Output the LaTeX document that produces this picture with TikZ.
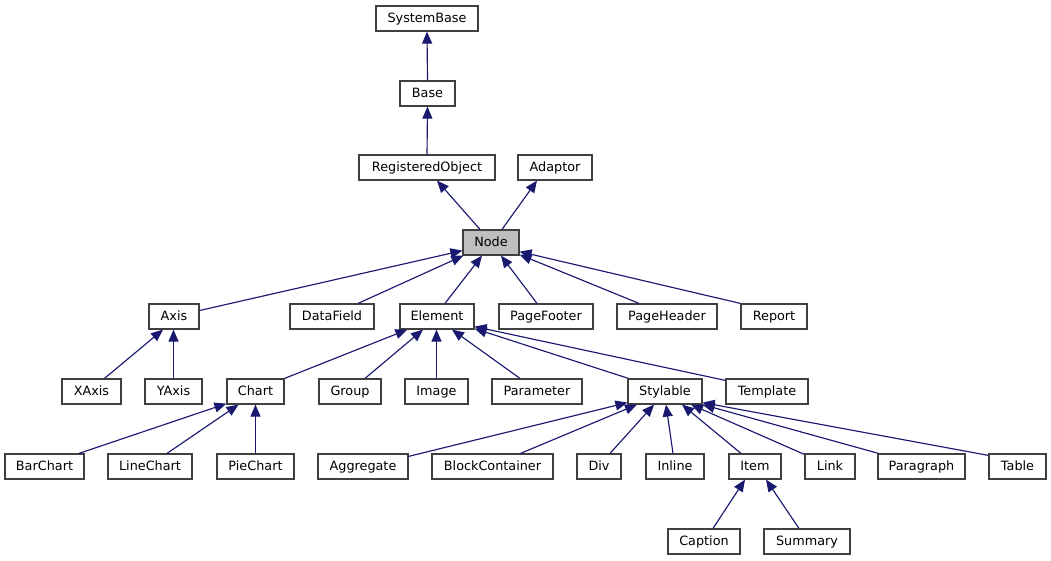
\documentclass[tikz,border=0pt]{standalone}
\usepackage{fontspec}
\setmainfont{DejaVu Sans}
\usetikzlibrary{arrows.meta}
\definecolor{edgeblue}{HTML}{191970}
\definecolor{boxline}{HTML}{404040}
\definecolor{nodegray}{HTML}{BFBFBF}
\tikzset{
  cls/.style={draw=boxline, line width=1.2pt, fill=white, inner sep=0pt,
    minimum height=25pt, text height=9.6pt, text depth=2.6pt,
    font=\fontsize{12.8pt}{14pt}\selectfont, text=black},
  cur/.style={cls, fill=nodegray},
  edge/.style={draw=edgeblue, line width=1.15pt, -{Triangle[length=12pt,width=10pt]}}
}
\begin{document}
\begin{tikzpicture}[x=1pt,y=-1pt]
\useasboundingbox (0,0) rectangle (1051,560);
% row 1-4
\node[cls, minimum width=102pt] (SystemBase) at (427,18.5) {SystemBase};
\node[cls, minimum width=55pt] (Base) at (427.5,93.5) {Base};
\node[cls, minimum width=136pt] (RegisteredObject) at (427,167.5) {RegisteredObject};
\node[cls, minimum width=74pt] (Adaptor) at (555,167.5) {Adaptor};
\node[cur, minimum width=56pt] (Node) at (491,242.5) {Node};
% row 5
\node[cls, minimum width=50pt] (Axis) at (174,316.5) {Axis};
\node[cls, minimum width=84pt] (DataField) at (332,316.5) {DataField};
\node[cls, minimum width=74pt] (Element) at (437,316.5) {Element};
\node[cls, minimum width=94pt] (PageFooter) at (546,316.5) {PageFooter};
\node[cls, minimum width=100pt] (PageHeader) at (667,316.5) {PageHeader};
\node[cls, minimum width=66pt] (Report) at (774,316.5) {Report};
% row 6
\node[cls, minimum width=59pt] (XAxis) at (91.5,391.5) {XAxis};
\node[cls, minimum width=57pt] (YAxis) at (173.5,391.5) {YAxis};
\node[cls, minimum width=57pt] (Chart) at (255.5,391.5) {Chart};
\node[cls, minimum width=62pt] (Group) at (350,391.5) {Group};
\node[cls, minimum width=63pt] (Image) at (436.5,391.5) {Image};
\node[cls, minimum width=90pt] (Parameter) at (537,391.5) {Parameter};
\node[cls, minimum width=74pt] (Stylable) at (665,391.5) {Stylable};
\node[cls, minimum width=82pt] (Template) at (767,391.5) {Template};
% row 7
\node[cls, minimum width=79pt] (BarChart) at (44.5,466.5) {BarChart};
\node[cls, minimum width=84pt] (LineChart) at (150,466.5) {LineChart};
\node[cls, minimum width=77pt] (PieChart) at (255.5,466.5) {PieChart};
\node[cls, minimum width=90pt] (Aggregate) at (363,466.5) {Aggregate};
\node[cls, minimum width=121pt] (BlockContainer) at (492.5,466.5) {BlockContainer};
\node[cls, minimum width=44pt] (Div) at (599,466.5) {Div};
\node[cls, minimum width=58pt] (Inline) at (675,466.5) {Inline};
\node[cls, minimum width=52pt] (Item) at (755,466.5) {Item};
\node[cls, minimum width=50pt] (Link) at (830,466.5) {Link};
\node[cls, minimum width=87pt] (Paragraph) at (921.5,466.5) {Paragraph};
\node[cls, minimum width=57pt] (Table) at (1017.5,466.5) {Table};
% row 8
\node[cls, minimum width=72pt] (Caption) at (704,541.5) {Caption};
\node[cls, minimum width=86pt] (Summary) at (807,541.5) {Summary};
% edges
\draw[edge] (Base.north) -- (SystemBase.south);
\draw[edge] (RegisteredObject.north) -- (Base.south);
\draw[edge] ([xshift=-11pt]Node.north) -- ([xshift=10pt]RegisteredObject.south);
\draw[edge] ([xshift=11pt]Node.north) -- ([xshift=-18pt]Adaptor.south);
\draw[edge] ([yshift=6pt]Axis.east) -- ([yshift=5pt]Node.south west);
\draw[edge] ([xshift=26pt]DataField.north) -- ([xshift=1pt]Node.south west);
\draw[edge] ([xshift=8pt]Element.north) -- ([xshift=-9pt]Node.south);
\draw[edge] ([xshift=-9pt]PageFooter.north) -- ([xshift=10pt]Node.south);
\draw[edge] ([xshift=-28pt]PageHeader.north) -- ([yshift=1pt]Node.south east);
\draw[edge] (Report.north west) -- ([yshift=4pt]Node.south east);
\draw[edge] ([xshift=13pt]XAxis.north) -- ([xshift=-11pt]Axis.south);
\draw[edge] (YAxis.north) -- (YAxis.north |- Axis.south);
\draw[edge] (Chart.north east) -- ([xshift=8pt]Element.south west);
\draw[edge] ([xshift=15pt]Group.north) -- ([xshift=-14pt]Element.south);
\draw[edge] (Image.north) -- (Image.north |- Element.south);
\draw[edge] ([xshift=-17pt]Parameter.north) -- ([xshift=15pt]Element.south);
\draw[edge] ([xshift=1pt]Stylable.north west) -- ([yshift=1pt]Element.south east);
\draw[edge] ([yshift=-2pt]Template.north west) -- ([yshift=3pt]Element.south east);
\draw[edge] ([xshift=34.5pt]BarChart.north) -- ([yshift=1pt]Chart.south west);
\draw[edge] ([xshift=17pt]LineChart.north) -- ([xshift=-17pt]Chart.south);
\draw[edge] (PieChart.north) -- (Chart.south);
\draw[edge] ([yshift=-3pt]Aggregate.north east) -- ([yshift=2pt]Stylable.south west);
\draw[edge] ([xshift=28pt]BlockContainer.north) -- ([xshift=-28pt]Stylable.south);
\draw[edge] ([xshift=11pt]Div.north) -- ([xshift=-11pt]Stylable.south);
\draw[edge] ([xshift=-2pt]Inline.north) -- ([xshift=1pt]Stylable.south);
\draw[edge] ([xshift=-14pt]Item.north) -- ([xshift=17pt]Stylable.south);
\draw[edge] ([yshift=-1pt]Link.north west) -- ([xshift=26pt]Stylable.south);
\draw[edge] ([xshift=-43pt]Paragraph.north) -- (Stylable.south east);
\draw[edge] ([yshift=-2pt]Table.north west) -- ([yshift=2pt]Stylable.south east);
\draw[edge] ([xshift=9pt]Caption.north) -- ([xshift=-10pt]Item.south);
\draw[edge] ([xshift=-8pt]Summary.north) -- ([xshift=11pt]Item.south);
\end{tikzpicture}
\end{document}
